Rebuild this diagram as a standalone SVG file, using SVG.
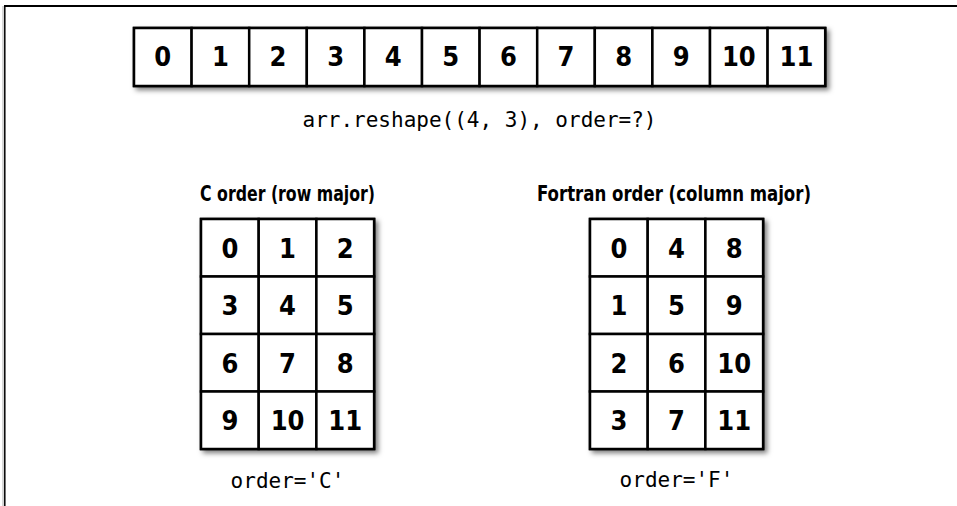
<svg xmlns="http://www.w3.org/2000/svg" width="957" height="506" viewBox="0 0 957 506">
<defs>
<filter id="sh" x="-10%" y="-10%" width="130%" height="130%">
<feDropShadow dx="3" dy="3" stdDeviation="2.5" flood-color="#000" flood-opacity="0.5"/>
</filter>
</defs>
<style>
.cell{fill:#fff;stroke:#000;stroke-width:2.5}
.bg{fill:#fff;stroke:#000;stroke-width:2.5;filter:url(#sh)}
.num{font-family:"Liberation Sans Narrow","DejaVu Sans Condensed",sans-serif;font-weight:bold;font-size:27px;text-anchor:middle;fill:#000}
.title{font-family:"Liberation Sans Narrow","DejaVu Sans Condensed",sans-serif;font-weight:bold;font-size:22px;text-anchor:middle;fill:#000}
.code{font-family:"DejaVu Sans Mono","Liberation Mono",monospace;font-size:21px;text-anchor:middle;fill:#000}
</style>
<rect width="957" height="506" fill="#fff"/>
<g id="frame">
<line x1="3" y1="6" x2="3" y2="506" stroke="#bbb" stroke-width="1.2"/>
<line x1="4.8" y1="6" x2="4.8" y2="506" stroke="#000" stroke-width="1.5"/>
<line x1="4" y1="6" x2="957" y2="6" stroke="#000" stroke-width="2"/>
</g>
<g id="connectors"/>
<g id="array1d">
<rect class="bg" x="134" y="28" width="691.2" height="58"/>
<g id="a0"><rect class="cell" x="134" y="28" width="57.6" height="58"/><text class="num" x="162.8" y="66">0</text></g>
<g id="a1"><rect class="cell" x="191.6" y="28" width="57.6" height="58"/><text class="num" x="220.4" y="66">1</text></g>
<g id="a2"><rect class="cell" x="249.2" y="28" width="57.6" height="58"/><text class="num" x="278" y="66">2</text></g>
<g id="a3"><rect class="cell" x="306.8" y="28" width="57.6" height="58"/><text class="num" x="335.6" y="66">3</text></g>
<g id="a4"><rect class="cell" x="364.4" y="28" width="57.6" height="58"/><text class="num" x="393.2" y="66">4</text></g>
<g id="a5"><rect class="cell" x="422" y="28" width="57.6" height="58"/><text class="num" x="450.8" y="66">5</text></g>
<g id="a6"><rect class="cell" x="479.6" y="28" width="57.6" height="58"/><text class="num" x="508.4" y="66">6</text></g>
<g id="a7"><rect class="cell" x="537.2" y="28" width="57.6" height="58"/><text class="num" x="566" y="66">7</text></g>
<g id="a8"><rect class="cell" x="594.8" y="28" width="57.6" height="58"/><text class="num" x="623.6" y="66">8</text></g>
<g id="a9"><rect class="cell" x="652.4" y="28" width="57.6" height="58"/><text class="num" x="681.2" y="66">9</text></g>
<g id="a10"><rect class="cell" x="710" y="28" width="57.6" height="58"/><text class="num" x="738.8" y="66">10</text></g>
<g id="a11"><rect class="cell" x="767.6" y="28" width="57.6" height="58"/><text class="num" x="796.4" y="66">11</text></g>
</g>
<g id="reshape-label"><text class="code" x="479.5" y="127">arr.reshape((4, 3), order=?)</text></g>
<g id="c-order">
<text class="title" x="287.5" y="201" textLength="175" lengthAdjust="spacingAndGlyphs">C order (row major)</text>
<rect class="bg" x="201" y="219" width="173.1" height="230"/>
<g id="c00"><rect class="cell" x="201" y="219" width="57.7" height="57.5"/><text class="num" x="229.85" y="257.5">0</text></g>
<g id="c01"><rect class="cell" x="258.7" y="219" width="57.7" height="57.5"/><text class="num" x="287.55" y="257.5">1</text></g>
<g id="c02"><rect class="cell" x="316.4" y="219" width="57.7" height="57.5"/><text class="num" x="345.25" y="257.5">2</text></g>
<g id="c10"><rect class="cell" x="201" y="276.5" width="57.7" height="57.5"/><text class="num" x="229.85" y="315">3</text></g>
<g id="c11"><rect class="cell" x="258.7" y="276.5" width="57.7" height="57.5"/><text class="num" x="287.55" y="315">4</text></g>
<g id="c12"><rect class="cell" x="316.4" y="276.5" width="57.7" height="57.5"/><text class="num" x="345.25" y="315">5</text></g>
<g id="c20"><rect class="cell" x="201" y="334" width="57.7" height="57.5"/><text class="num" x="229.85" y="372.5">6</text></g>
<g id="c21"><rect class="cell" x="258.7" y="334" width="57.7" height="57.5"/><text class="num" x="287.55" y="372.5">7</text></g>
<g id="c22"><rect class="cell" x="316.4" y="334" width="57.7" height="57.5"/><text class="num" x="345.25" y="372.5">8</text></g>
<g id="c30"><rect class="cell" x="201" y="391.5" width="57.7" height="57.5"/><text class="num" x="229.85" y="430">9</text></g>
<g id="c31"><rect class="cell" x="258.7" y="391.5" width="57.7" height="57.5"/><text class="num" x="287.55" y="430">10</text></g>
<g id="c32"><rect class="cell" x="316.4" y="391.5" width="57.7" height="57.5"/><text class="num" x="345.25" y="430">11</text></g>
<text class="code" x="287.5" y="488">order='C'</text>
</g>
<g id="f-order">
<text class="title" x="674" y="201" textLength="274" lengthAdjust="spacingAndGlyphs">Fortran order (column major)</text>
<rect class="bg" x="590" y="219" width="173.1" height="230"/>
<g id="f00"><rect class="cell" x="590" y="219" width="57.7" height="57.5"/><text class="num" x="618.85" y="257.5">0</text></g>
<g id="f01"><rect class="cell" x="647.7" y="219" width="57.7" height="57.5"/><text class="num" x="676.55" y="257.5">4</text></g>
<g id="f02"><rect class="cell" x="705.4" y="219" width="57.7" height="57.5"/><text class="num" x="734.25" y="257.5">8</text></g>
<g id="f10"><rect class="cell" x="590" y="276.5" width="57.7" height="57.5"/><text class="num" x="618.85" y="315">1</text></g>
<g id="f11"><rect class="cell" x="647.7" y="276.5" width="57.7" height="57.5"/><text class="num" x="676.55" y="315">5</text></g>
<g id="f12"><rect class="cell" x="705.4" y="276.5" width="57.7" height="57.5"/><text class="num" x="734.25" y="315">9</text></g>
<g id="f20"><rect class="cell" x="590" y="334" width="57.7" height="57.5"/><text class="num" x="618.85" y="372.5">2</text></g>
<g id="f21"><rect class="cell" x="647.7" y="334" width="57.7" height="57.5"/><text class="num" x="676.55" y="372.5">6</text></g>
<g id="f22"><rect class="cell" x="705.4" y="334" width="57.7" height="57.5"/><text class="num" x="734.25" y="372.5">10</text></g>
<g id="f30"><rect class="cell" x="590" y="391.5" width="57.7" height="57.5"/><text class="num" x="618.85" y="430">3</text></g>
<g id="f31"><rect class="cell" x="647.7" y="391.5" width="57.7" height="57.5"/><text class="num" x="676.55" y="430">7</text></g>
<g id="f32"><rect class="cell" x="705.4" y="391.5" width="57.7" height="57.5"/><text class="num" x="734.25" y="430">11</text></g>
<text class="code" x="676.5" y="487">order='F'</text>
</g>
</svg>
